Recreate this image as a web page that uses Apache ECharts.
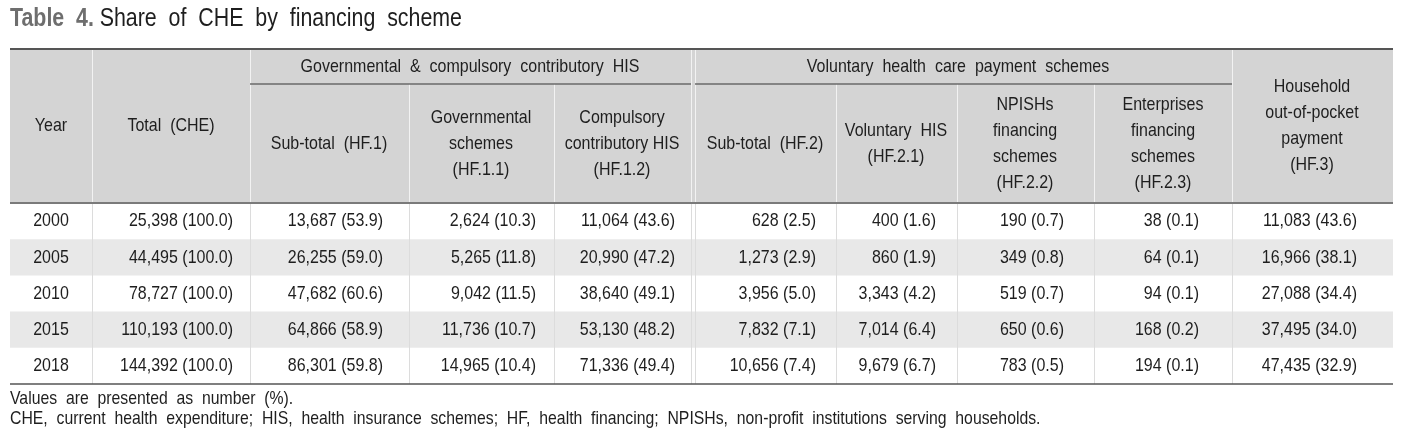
<!DOCTYPE html>
<html><head><meta charset="utf-8">
<script src="https://cdn.jsdelivr.net/npm/echarts@6/dist/echarts.min.js"></script>
<style>html,body{margin:0;padding:0;background:#fff}#c{width:1403px;height:448px}</style>
</head><body><div id="c"></div>
<script>
// ---------- DATA ----------
const years = ['2000', '2005', '2010', '2015', '2018'];
const totalCHE = [25398, 44495, 78727, 110193, 144392];
const totalPct = [100.0, 100.0, 100.0, 100.0, 100.0];
const hf1 = [13687, 26255, 47682, 64866, 86301];
const hf1Pct = [53.9, 59.0, 60.6, 58.9, 59.8];
const hf11 = [2624, 5265, 9042, 11736, 14965];
const hf11Pct = [10.3, 11.8, 11.5, 10.7, 10.4];
const hf12 = [11064, 20990, 38640, 53130, 71336];
const hf12Pct = [43.6, 47.2, 49.1, 48.2, 49.4];
const hf2 = [628, 1273, 3956, 7832, 10656];
const hf2Pct = [2.5, 2.9, 5.0, 7.1, 7.4];
const hf21 = [400, 860, 3343, 7014, 9679];
const hf21Pct = [1.6, 1.9, 4.2, 6.4, 6.7];
const hf22 = [190, 349, 519, 650, 783];
const hf22Pct = [0.7, 0.8, 0.7, 0.6, 0.5];
const hf23 = [38, 64, 94, 168, 194];
const hf23Pct = [0.1, 0.1, 0.1, 0.2, 0.1];
const hf3 = [11083, 16966, 27088, 37495, 47435];
const hf3Pct = [43.6, 38.1, 34.4, 34.0, 32.9];

const titleBold = 'Table  4.';
const titleText = 'Share  of  CHE  by  financing  scheme';
const groupHeaders = ['Governmental  &  compulsory  contributory  HIS', 'Voluntary  health  care  payment  schemes'];
const colHeaders = [
  'Year', 'Total  (CHE)', 'Sub-total  (HF.1)', 'Governmental\nschemes\n(HF.1.1)',
  'Compulsory\ncontributory HIS\n(HF.1.2)', 'Sub-total  (HF.2)', 'Voluntary  HIS\n(HF.2.1)',
  'NPISHs\nfinancing\nschemes\n(HF.2.2)', 'Enterprises\nfinancing\nschemes\n(HF.2.3)',
  'Household\nout-of-pocket\npayment\n(HF.3)'
];
const notes = [
  'Values  are  presented  as  number  (%).',
  'CHE,  current  health  expenditure;  HIS,  health  insurance  schemes;  HF,  health  financing;  NPISHs,  non-profit  institutions  serving  households.'
];

// ---------- LAYOUT ----------
const W = 1403, H = 448;
const FONT = "'Liberation Sans', Arial, sans-serif";
const FS = 19;
const SX = 16 / 19;
const X0 = 10, X1 = 1393;
const Y_TOP = 49, Y_GRP = 84, Y_HEAD = 203, Y_BOT = 384;
const TEXT = '#1e1e1e';
const colAnchor = [51, 233, 383, 536, 675, 816, 936, 1064, 1199, 1357];
const colAlign = ['center', 'right', 'right', 'right', 'right', 'right', 'right', 'right', 'right', 'right'];
const headCenter = [51, 171, 329, 481, 622, 765, 896, 1025, 1163, 1312];
const groupCenter = [470, 958];
const groupSpan = [[250, 691], [695, 1232]];

const columns = [
  [null, null], [totalCHE, totalPct], [hf1, hf1Pct], [hf11, hf11Pct], [hf12, hf12Pct],
  [hf2, hf2Pct], [hf21, hf21Pct], [hf22, hf22Pct], [hf23, hf23Pct], [hf3, hf3Pct]
];
function fmt(n, p) { return n.toLocaleString('en-US') + ' (' + p.toFixed(1) + ')'; }

const cellData = [];
years.forEach((y, i) => {
  columns.forEach((col, c) => {
    const t = c === 0 ? y : fmt(col[0][i], col[1][i]);
    cellData.push([colAnchor[c], i, t, c]);
  });
});
const stripeData = years.map((y, i) => [0, i]);

function txt(x, y, t, align, size, sx) {
  return { type: 'text', z: 5, x: x, y: y, scaleX: sx || SX,
    style: { text: t, fill: TEXT, font: size + 'px ' + FONT, textAlign: align, textVerticalAlign: 'middle', lineHeight: 26 } };
}

// ---------- GRAPHIC ----------
const g = [];
g.push({ type: 'rect', z: 1, shape: { x: X0, y: Y_TOP, width: X1 - X0, height: Y_HEAD - Y_TOP }, style: { fill: '#d4d4d4' } });
const fullSep = [92, 250, 691, 695, 1232];
const subSep = [409, 554, 836, 957, 1094];
fullSep.forEach(x => g.push({ type: 'line', z: 2, shape: { x1: x + 0.5, y1: Y_TOP, x2: x + 0.5, y2: Y_HEAD }, style: { stroke: '#f2f2f2', lineWidth: 1 } }));
subSep.forEach(x => g.push({ type: 'line', z: 2, shape: { x1: x + 0.5, y1: Y_GRP, x2: x + 0.5, y2: Y_HEAD }, style: { stroke: '#f2f2f2', lineWidth: 1 } }));
fullSep.concat(subSep).forEach(x => g.push({ type: 'line', z: 3, shape: { x1: x + 0.5, y1: Y_HEAD, x2: x + 0.5, y2: Y_BOT }, style: { stroke: '#dcdcdc', lineWidth: 1 } }));
groupSpan.forEach(s => g.push({ type: 'line', z: 3, shape: { x1: s[0], y1: Y_GRP, x2: s[1], y2: Y_GRP }, style: { stroke: '#6a6a6a', lineWidth: 1.5 } }));
g.push({ type: 'line', z: 4, shape: { x1: X0, y1: Y_TOP, x2: X1, y2: Y_TOP }, style: { stroke: '#555555', lineWidth: 2 } });
g.push({ type: 'line', z: 4, shape: { x1: X0, y1: Y_HEAD, x2: X1, y2: Y_HEAD }, style: { stroke: '#7a7a7a', lineWidth: 2 } });
g.push({ type: 'line', z: 4, shape: { x1: X0, y1: Y_BOT, x2: X1, y2: Y_BOT }, style: { stroke: '#555555', lineWidth: 1.5 } });
groupHeaders.forEach((t, k) => g.push(txt(groupCenter[k], 67, t, 'center', FS)));
colHeaders.forEach((t, c) => {
  const full = (c <= 1 || c === 9);
  const cy = full ? (Y_TOP + Y_HEAD) / 2 : (Y_GRP + Y_HEAD) / 2;
  g.push(txt(headCenter[c], cy, t, 'center', FS));
});
g.push({ type: 'text', z: 5, x: X0, y: 19, scaleX: 0.855, style: {
  text: '{b|' + titleBold + '}  {n|' + titleText + '}', textAlign: 'left', textVerticalAlign: 'middle',
  rich: { b: { fontFamily: FONT, fontSize: 25, fontWeight: 'bold', fill: '#6e6e6e' },
          n: { fontFamily: FONT, fontSize: 25, fill: TEXT } } } });
notes.forEach((t, k) => g.push(txt(X0, 399 + k * 20, t, 'left', FS, SX * 0.987)));

const chart = echarts.init(document.getElementById('c'), null, { renderer: 'canvas', width: W, height: H });
chart.setOption({
  animation: false,
  backgroundColor: '#ffffff',
  grid: { left: 0, right: 0, top: Y_HEAD, bottom: H - Y_BOT },
  xAxis: { type: 'value', min: 0, max: W, show: false },
  yAxis: { type: 'category', data: years, inverse: true, show: false },
  graphic: g,
  series: [
    {
      type: 'custom', z: 0, data: stripeData, encode: { x: 0, y: 1 },
      renderItem: function (params, api) {
        const i = api.value(1);
        if (i % 2 === 0) return null;
        const p = api.coord([X0, i]);
        const h = api.size([0, 1])[1];
        return { type: 'rect', shape: { x: X0, y: p[1] - h / 2, width: X1 - X0, height: h }, style: { fill: '#e8e8e8' } };
      }
    },
    {
      type: 'custom', z: 6, data: cellData, encode: { x: 0, y: 1 },
      renderItem: function (params, api) {
        const p = api.coord([api.value(0), api.value(1)]);
        const item = cellData[params.dataIndex];
        return { type: 'text', x: p[0], y: p[1], scaleX: SX,
          style: { text: item[2], fill: TEXT, font: FS + 'px ' + FONT, textAlign: colAlign[item[3]], textVerticalAlign: 'middle' } };
      }
    }
  ]
});
</script>
</body></html>
